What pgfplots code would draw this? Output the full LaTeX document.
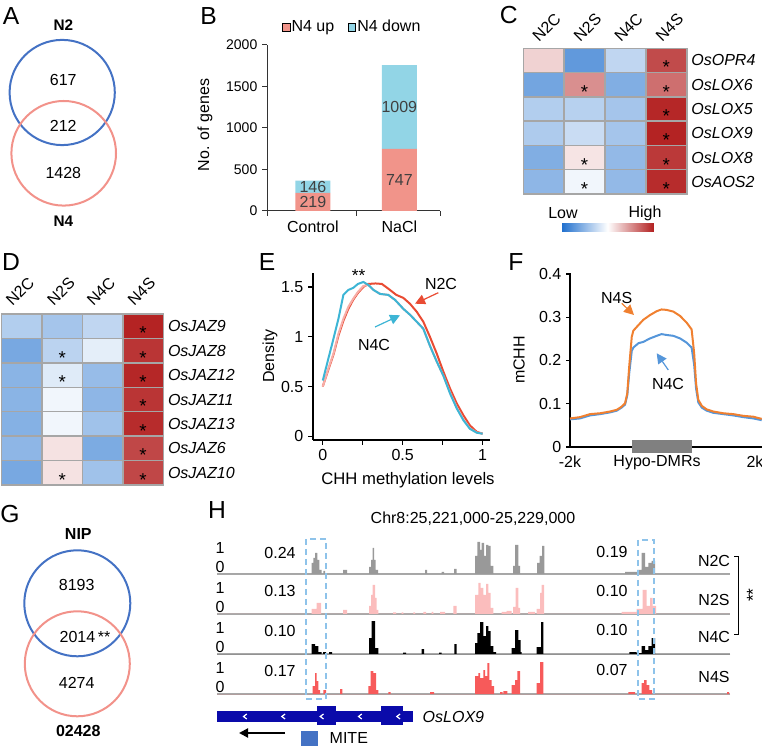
\documentclass[border=0pt]{standalone}
\usepackage{fontspec}
\setmainfont{Liberation Sans}
\usepackage{pgfplots}
\pgfplotsset{compat=1.18}
\usetikzlibrary{arrows.meta}
\newcommand\fs[1]{\fontsize{#1}{#1}\selectfont}
\definecolor{vblue}{HTML}{4472C4}
\definecolor{vpink}{HTML}{F2928A}
\definecolor{bup}{HTML}{F1948A}
\definecolor{bdown}{HTML}{92D5E6}
\definecolor{hmgray}{HTML}{A6A6A6}
\definecolor{ered}{HTML}{E94B33}
\definecolor{ecyan}{HTML}{3DB5D5}
\definecolor{epink}{HTML}{F7AEA8}
\definecolor{forange}{HTML}{F08030}
\definecolor{fblue}{HTML}{5596DA}
\definecolor{dmrgray}{HTML}{808080}
\definecolor{hgray}{HTML}{999999}
\definecolor{hpink}{HTML}{FBBDBD}
\definecolor{hred}{HTML}{F75A5A}
\definecolor{hbase}{HTML}{A8A8A8}
\definecolor{gblue}{HTML}{0A0AAA}
\definecolor{dbox}{HTML}{8EC3EA}
\pgfdeclareplotmark{cellC}{\pgfpathrectangle{\pgfpoint{-15.375pt}{-9.13pt}}{\pgfpoint{30.75pt}{18.25pt}}\pgfusepathqfillstroke}
\pgfdeclareplotmark{cellD}{\pgfpathrectangle{\pgfpoint{-15.12pt}{-9.16pt}}{\pgfpoint{30.25pt}{18.32pt}}\pgfusepathqfillstroke}
\pgfplotsset{colormap={bwr}{rgb255=(30,110,205) rgb255=(255,255,255) rgb255=(178,30,30)}}
\pgfplotsset{every axis/.append style={/pgf/number format/assume math mode=true, scale only axis, enlargelimits=false}}
\pgfplotsset{track/.style={width=384.75pt, height=26.25pt, xmin=217, xmax=730, ymin=0, ymax=35,
  axis x line=bottom, axis y line=none, xtick=\empty, ytick=\empty,
  axis line style={-, line width=1.125pt, color=hbase}, anchor=south west, clip=false}}
\begin{document}
\begin{tikzpicture}[x=0.75pt,y=0.75pt]
\useasboundingbox (0,0) rectangle (762,745);
% ---------- panel letters
\foreach \l/\x/\y in {A/11/16,B/208.5/16.5,C/508.7/15,D/11/262,E/267/262,F/516/262,G/10/514.5,H/217/510}
  \node[font=\fs{18.5}] at (\x,745-\y) {\l};
% ---------- A: Venn
\draw[vblue, line width=1.5pt] (62.2,745-92.5) circle[radius=52.6];
\draw[vpink, line width=1.5pt] (63.7,745-153.3) circle[radius=52.3];
\node[font=\fs{11.5}\bfseries] at (63.3,745-25) {N2};
\node[font=\fs{12}] at (63.3,745-80) {617};
\node[font=\fs{12}] at (63.3,745-126) {212};
\node[font=\fs{12}] at (63.3,745-172.7) {1428};
\node[font=\fs{11.5}\bfseries] at (63.3,745-221.7) {N4};
% ---------- B: stacked bars
\coordinate (Bo) at (267,745-211);
\begin{axis}[at={(Bo)}, anchor=south west, width=129.75pt, height=124.5pt,
  ybar stacked, bar width=26.25pt, xmin=0.47, xmax=2.47, ymin=0, ymax=2000,
  axis x line=bottom, axis y line=left, axis line style={-, line width=0.75pt, color=black!80},
  xtick={1,2}, xticklabels={Control,NaCl}, major x tick style={draw=none},
  minor xtick={0.47,1.5,2.47}, ytick={0,500,1000,1500,2000},
  tick align=outside, major tick length=3.75pt, minor tick length=3.75pt,
  tick style={line width=0.75pt, color=black!80},
  yticklabel style={font=\fs{10.5}}, xticklabel style={font=\fs{12}},
  /pgf/number format/1000 sep={},
  legend columns=2,
  legend style={draw=none, fill=none, at={(0.491,1.108)}, anchor=center, inner sep=0pt,
    nodes={inner sep=1.1pt, font=\fs{12}}, /tikz/every even column/.append style={column sep=9pt}},
  legend image code/.code={\draw[#1] (0pt,-2.85pt) rectangle (5.7pt,2.85pt);}]
\addplot[fill=bup, draw=none] coordinates {(1,219) (2,747)};
\addplot[fill=bdown, draw=none] coordinates {(1,146) (2,1009)};
\legend{N4 up, N4 down}
\coordinate (bl1) at (axis cs:1,109.5);
\coordinate (bl2) at (axis cs:1,292);
\coordinate (bl3) at (axis cs:2,373.5);
\coordinate (bl4) at (axis cs:2,1251.5);
\end{axis}
\node[font=\fs{12}, text=black!75] at (bl1) {219};
\node[font=\fs{12}, text=black!75] at (bl2) {146};
\node[font=\fs{12}, text=black!75] at (bl3) {747};
\node[font=\fs{12}, text=black!75] at (bl4) {1009};
\node[rotate=90, font=\fs{12}] at (205,745-125) {No. of genes};
% ---------- C: heatmap
\coordinate (Cnw) at (523.3,745-48.3);
\begin{axis}[at={(Cnw)}, anchor=north west, width=122.55pt, height=109.3pt,
  xmin=-0.5, xmax=3.5, ymin=-0.5, ymax=5.5, y dir=reverse, clip=false,
  axis line style={draw=none}, xtick=\empty, ytick={0,...,5},
  yticklabels={OsOPR4,OsLOX6,OsLOX5,OsLOX9,OsLOX8,OsAOS2},
  yticklabel pos=right, major tick length=0pt,
  yticklabel style={font=\fs{12}\itshape},
  colormap name=bwr, point meta min=0, point meta max=1,
  colorbar horizontal,
  colorbar style={at={(parent axis.south west)}, anchor=north west, xshift=28.5pt, yshift=-13.5pt,
    width=69.5pt, height=6.2pt, xtick=\empty, ytick=\empty, axis line style={draw=none}, major tick length=0pt}]
\addplot[scatter, only marks, mark=cellC, scatter/use mapped color={draw=hmgray, fill=mapped color},
  mark options={line width=1.1pt}, point meta=explicit] table[meta=v] {
x y v
0 0 0.60
1 0 0.15
2 0 0.36
3 0 0.90
0 1 0.19
1 1 0.75
2 1 0.22
3 1 0.82
0 2 0.33
1 2 0.34
2 2 0.30
3 2 0.98
0 3 0.32
1 3 0.38
2 3 0.30
3 3 0.99
0 4 0.22
1 4 0.56
2 4 0.26
3 4 0.94
0 5 0.25
1 5 0.47
2 5 0.26
3 5 0.97
};
\addplot[only marks, mark=none, nodes near coords={*},
  every node near coord/.append style={anchor=center, font=\fs{14}, yshift=-5.25pt, text=black}]
  coordinates {(3,0) (1,1) (3,1) (3,2) (3,3) (1,4) (3,4) (1,5) (3,5)};
\end{axis}
\foreach \t/\x in {N2C/546.5,N2S/587.5,N4C/628.5,N4S/669.5}
  \node[rotate=45, font=\fs{12}, inner sep=0pt] at (\x,745-27.5) {\t};
\node[font=\fs{12}] at (563,745-213) {Low};
\node[font=\fs{12}] at (645,745-213) {High};
% ---------- D: heatmap
\coordinate (Dnw) at (1.7,745-314);
\begin{axis}[at={(Dnw)}, anchor=north west, width=121.2pt, height=128.25pt,
  xmin=-0.5, xmax=3.5, ymin=-0.5, ymax=6.5, y dir=reverse, clip=false,
  axis line style={draw=none}, xtick=\empty, ytick={0,...,6},
  yticklabels={OsJAZ9,OsJAZ8,OsJAZ12,OsJAZ11,OsJAZ13,OsJAZ6,OsJAZ10},
  yticklabel pos=right, major tick length=0pt,
  yticklabel style={font=\fs{12}\itshape},
  colormap name=bwr, point meta min=0, point meta max=1]
\addplot[scatter, only marks, mark=cellD, scatter/use mapped color={draw=hmgray, fill=mapped color},
  mark options={line width=1.1pt}, point meta=explicit] table[meta=v] {
x y v
0 0 0.33
1 0 0.30
2 0 0.36
3 0 0.99
0 1 0.20
1 1 0.35
2 1 0.44
3 1 0.95
0 2 0.24
1 2 0.43
2 2 0.27
3 2 0.98
0 3 0.24
1 3 0.47
2 3 0.25
3 3 0.95
0 4 0.23
1 4 0.47
2 4 0.29
3 4 0.97
0 5 0.25
1 5 0.565
2 5 0.21
3 5 0.91
0 6 0.20
1 6 0.565
2 6 0.29
3 6 0.91
};
\addplot[only marks, mark=none, nodes near coords={*},
  every node near coord/.append style={anchor=center, font=\fs{14}, yshift=-5.25pt, text=black}]
  coordinates {(3,0) (3,1) (3,2) (3,3) (3,4) (3,5) (3,6) (1,1) (1,2) (1,6)};
\end{axis}
\foreach \t/\x in {N2C/20,N2S/61,N4C/101,N4S/141.5}
  \node[rotate=45, font=\fs{12}, inner sep=0pt] at (\x,745-291.5) {\t};
% ---------- E: density
\coordinate (Eo) at (313,745-440);
\begin{axis}[at={(Eo)}, anchor=south west, width=132.75pt, height=125.25pt,
  xmin=-0.061, xmax=1.046, ymin=-0.037, ymax=1.64,
  axis x line=bottom, axis y line=left, axis line style={-, line width=1.1pt},
  xtick={0,0.5,1}, minor xtick={0.25,0.75}, ytick={0,0.5,1,1.5},
  tick align=outside, major tick length=3.75pt, minor tick length=3.75pt,
  tick style={line width=1.1pt, color=black}, ticklabel style={font=\fs{12}}]
\addplot[ered, line width=1.5pt] coordinates {(0,0.50) (0.035,0.67) (0.067,0.82) (0.098,1.01) (0.129,1.16) (0.16,1.28) (0.19,1.37) (0.22,1.44) (0.254,1.50) (0.285,1.53) (0.33,1.535) (0.37,1.53) (0.42,1.47) (0.46,1.42) (0.504,1.39) (0.546,1.33) (0.588,1.25) (0.629,1.15) (0.67,1.0) (0.713,0.83) (0.754,0.65) (0.796,0.48) (0.838,0.33) (0.88,0.21) (0.92,0.11) (0.963,0.045) (1.0,0.026)};
\addplot[epink, line width=1.5pt] coordinates {(0,0.50) (0.035,0.68) (0.067,0.83) (0.098,1.03) (0.129,1.18) (0.16,1.30) (0.19,1.38) (0.22,1.45) (0.254,1.51) (0.285,1.52) (0.317,1.47) (0.358,1.43) (0.41,1.42) (0.452,1.37) (0.504,1.28) (0.546,1.22) (0.588,1.15) (0.629,1.08) (0.67,0.91) (0.713,0.75) (0.754,0.61) (0.796,0.44) (0.838,0.29) (0.88,0.17) (0.92,0.08) (0.963,0.038) (1.0,0.026)};
\addplot[ecyan, line width=1.5pt] coordinates {(0,0.56) (0.035,0.78) (0.067,0.98) (0.098,1.18) (0.129,1.42) (0.16,1.47) (0.19,1.49) (0.22,1.53) (0.254,1.55) (0.285,1.52) (0.317,1.47) (0.358,1.43) (0.41,1.42) (0.452,1.37) (0.504,1.28) (0.546,1.22) (0.588,1.15) (0.629,1.08) (0.67,0.91) (0.713,0.75) (0.754,0.61) (0.796,0.43) (0.838,0.28) (0.88,0.16) (0.92,0.076) (0.963,0.036) (1.0,0.026)};
\end{axis}
\node[rotate=90, font=\fs{12}] at (270,745-356) {Density};
\node[font=\fs{12.5}] at (408,745-480) {CHH methylation levels};
\node[font=\fs{13}] at (358.5,745-275.5) {**};
\node[font=\fs{12}] at (441,745-284) {N2C};
\node[font=\fs{12}] at (374,745-344.5) {N4C};
\draw[ered, line width=0.9pt, -{Triangle[length=7.5pt,width=7.5pt]}] (438.3,745-292.7) -- (415,745-303.7);
\draw[ecyan, line width=0.9pt, -{Triangle[length=7.5pt,width=7.5pt]}] (375,745-327) -- (400,745-315.3);
% ---------- F: profile
\coordinate (Fo) at (570,745-447);
\begin{axis}[at={(Fo)}, anchor=south west, width=144pt, height=130.5pt,
  xmin=0, xmax=60, ymin=0, ymax=0.4023, clip=false,
  axis x line=bottom, axis y line=left, axis line style={-, line width=1.1pt},
  xtick={0,27.2,57.8}, xticklabels={-2k,Hypo-DMRs,2k}, major x tick style={draw=none},
  ytick={0,0.1,0.2,0.3,0.4}, yticklabels={0,0.1,0.2,0.3,0.4},
  tick align=outside, major tick length=3pt, tick style={line width=1.1pt, color=black},
  ticklabel style={font=\fs{12}}]
\addplot[dmrgray, line width=9.75pt] coordinates {(19.4,0.001) (38.1,0.001)};
\addplot[fblue, line width=1.5pt] coordinates {(0,0.064) (3.1,0.066) (6.25,0.073) (9.4,0.076) (12.5,0.080) (14.6,0.084) (16.1,0.091) (17.2,0.098) (17.9,0.12) (18.5,0.17) (19.3,0.222) (19.8,0.230) (21.4,0.240) (22.9,0.243) (25,0.251) (27.1,0.257) (28.6,0.261) (30.2,0.259) (32.3,0.257) (34.4,0.251) (36.5,0.241) (38,0.230) (38.8,0.19) (39.4,0.135) (40.1,0.103) (41.2,0.091) (42.7,0.084) (44.8,0.079) (47.9,0.076) (51,0.073) (54.2,0.069) (57.3,0.066) (59.9,0.062)};
\addplot[forange, line width=1.5pt] coordinates {(0,0.066) (3.1,0.069) (6.25,0.076) (9.4,0.078) (12.5,0.082) (14.6,0.086) (16.1,0.093) (17.2,0.101) (17.9,0.124) (18.5,0.186) (19.3,0.255) (19.8,0.269) (21.4,0.282) (22.9,0.294) (25,0.305) (27.1,0.314) (28.6,0.318) (30.2,0.317) (32.3,0.313) (34.4,0.303) (36.5,0.287) (38,0.272) (38.8,0.217) (39.4,0.147) (40.1,0.109) (41.2,0.095) (42.7,0.087) (44.8,0.082) (47.9,0.078) (51,0.076) (54.2,0.072) (57.3,0.070) (59.9,0.065)};
\end{axis}
\node[rotate=90, font=\fs{12}] at (519,745-360) {mCHH};
\node[font=\fs{12}] at (616.7,745-298) {N4S};
\node[font=\fs{12}] at (668,745-383.5) {N4C};
\draw[forange, line width=0.9pt, -{Triangle[length=7.5pt,width=7.5pt]}] (621.7,745-303.3) -- (634,745-315);
\draw[fblue, line width=0.9pt, -{Triangle[length=7.5pt,width=7.5pt]}] (668.3,745-370) -- (656.7,745-353.3);
% ---------- G: Venn
\draw[vblue, line width=1.5pt] (77.3,745-603.3) circle[radius=53];
\draw[vpink, line width=1.5pt] (77.3,745-663.8) circle[radius=52.5];
\node[font=\fs{12}\bfseries] at (78.3,745-534.3) {NIP};
\node[font=\fs{12}] at (76.7,745-585) {8193};
\node[font=\fs{12}] at (85,745-636.7) {2014\,**};
\node[font=\fs{12}] at (76.7,745-683.3) {4274};
\node[font=\fs{12}\bfseries] at (78.3,745-730.7) {02428};
% ---------- H: tracks
\node[font=\fs{12}] at (473,745-519) {Chr8:25,221,000-25,229,000};
\coordinate (H1) at (217,745-574);
\begin{axis}[track, at={(H1)}]
\addplot[const plot, fill=hgray, draw=none] coordinates {(217,0) (311.7,11) (313.3,16) (315,21) (317.3,14) (319.3,4) (321.7,0) (323.3,3) (325,0) (343,4) (347,0) (369,7) (371,14) (372.7,26) (374,14) (375.7,4) (378,0) (425,4) (427,0) (441.7,2) (444,0) (454,5) (456.7,0) (475,18) (477.3,32) (480,24) (481.7,31) (484,18) (486,29) (488.3,28) (490.7,8) (493.3,0) (513,8) (515,29) (518.3,8) (520,0) (537,11) (539.7,18) (542,28) (544.3,0) (625,2) (637,4) (641.7,21) (645,7) (648.3,11) (651.7,13) (655,0) (730,0)} \closedcycle;
\end{axis}
\coordinate (H2) at (217,745-614);
\begin{axis}[track, at={(H2)}]
\addplot[const plot, fill=hpink, draw=none] coordinates {(217,0) (311.7,5) (316.7,11) (321,0) (343,4) (347,0) (369,8) (371,19) (372.7,29) (375,16) (376.7,4) (378.3,0) (393,1.5) (396,0) (401.7,1.5) (403.3,0) (413.3,1.5) (415,0) (423.3,2) (426,0) (431.7,2) (433.3,0) (440,2) (445,0) (453.3,8) (456.7,0) (475,19) (478.3,31) (480.7,26) (483.3,19) (486,30) (488.3,21) (490.7,6) (493.3,0) (501.7,2) (506.7,3) (511.7,0) (513,7) (515.7,26) (518.3,6) (520,0) (528,2) (535,0) (536.7,5) (540,21) (541.7,29) (544,0) (621.7,2) (636.7,5) (642.7,24) (646.7,8) (650,16) (652.7,8) (656,0) (730,0)} \closedcycle;
\end{axis}
\coordinate (H3) at (217,745-654);
\begin{axis}[track, at={(H3)}]
\addplot[const plot, fill=black, draw=none] coordinates {(217,0) (311.7,10) (315,8) (318.3,2) (321.7,0) (323,2) (326,0) (329,2) (332,0) (369,16) (371.7,33) (375,6) (378.3,0) (403,1.5) (406,0) (421.7,5) (424,0) (439,1.5) (441.7,0) (454.3,10) (456.7,0) (475,11) (477.3,21) (480,32) (483.3,18) (486,28) (488.3,23) (490.7,8) (493.3,2) (496,0) (511.7,6) (515,24) (518.3,14) (520.7,2) (521.7,0) (536.7,7) (541,32) (543.3,0) (629.3,2) (636.7,1) (641.7,8) (645,4) (648.3,8) (651.7,16) (655,0) (730,0)} \closedcycle;
\end{axis}
\coordinate (H4) at (217,745-694);
\begin{axis}[track, at={(H4)}]
\addplot[const plot, fill=hred, draw=none] coordinates {(217,0) (312.7,8) (315,21) (316.7,13) (318.3,4) (320,0) (323.3,4) (326,0) (340,5) (342.3,0) (368.3,8) (370.7,23) (373.3,21) (376,4) (378.3,0) (388.3,2) (390.7,0) (430,2) (434,0) (475,18) (478.3,21) (480,16) (483.3,24) (485,18) (487.3,31) (489.3,14) (491.7,8) (494,0) (500,2) (502.7,0) (503.3,3) (507.3,0) (511.7,9) (515,14) (517.3,23) (520,0) (536.7,11) (540,32) (543.3,0) (628.3,2) (635,0) (641.7,11) (644,14) (646.7,9) (649.3,4) (652,0) (727,2) (729,0) (730,0)} \closedcycle;
\end{axis}
\foreach \a/\b in {548/567,588/606.7,628/647,668/687} {
  \node[font=\fs{12}] at (220,745-\a) {1};
  \node[font=\fs{12}] at (220,745-\b) {0};
}
\foreach \v/\y in {0.24/552.5,0.13/590.5,0.10/631,0.17/671}
  \node[font=\fs{12}] at (280,745-\y) {\v};
\foreach \v/\y in {0.19/551.5,0.10/591,0.10/630,0.07/670}
  \node[font=\fs{12}] at (612,745-\y) {\v};
\foreach \v/\y in {N2C/561,N2S/599.5,N4C/637,N4S/677}
  \node[font=\fs{12}] at (714,745-\y) {\v};
\draw[line width=0.75pt] (734,745-557) -- (738,745-557) -- (738,745-634) -- (734,745-634);
\node[rotate=90, font=\fs{13}] at (753,745-595) {**};
\draw[dbox, line width=1.1pt, dash pattern=on 4.5pt off 3pt] (306,745-539) rectangle (326,745-699);
\draw[dbox, line width=1.1pt, dash pattern=on 4.5pt off 3pt] (638,745-540) rectangle (654,745-699);
% gene model
\fill[gblue] (217,745-722) rectangle (413,745-711);
\fill[gblue] (317,745-725) rectangle (336,745-706);
\fill[gblue] (381,745-725) rectangle (403,745-706);
\foreach \x in {245,283.3,321.7,360,398.3}
  \draw[white, line width=0.9pt] (\x+1.8,745-714) -- (\x-1.5,745-716.5) -- (\x+1.8,745-719);
\node[font=\fs{12}\itshape, anchor=west] at (418,745-717) {OsLOX9};
\draw[line width=1.5pt, -{Triangle[length=6.75pt,width=6.75pt]}] (285,745-733) -- (239,745-733);
\fill[vblue] (301,745-731) rectangle (318,745-746);
\node[font=\fs{12}, anchor=west] at (325,745-737.5) {MITE};
\end{tikzpicture}
\end{document}
